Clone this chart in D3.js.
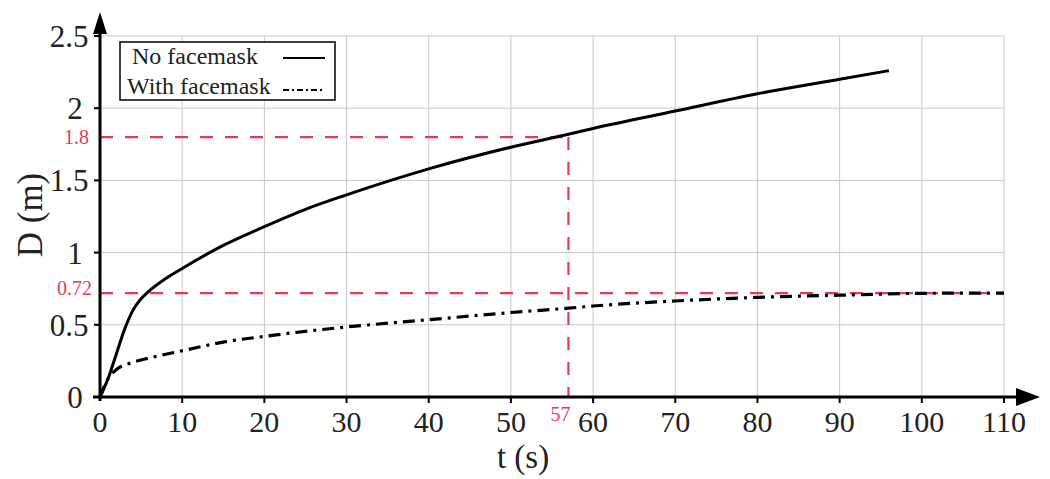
<!DOCTYPE html>
<html>
<head>
<meta charset="utf-8">
<script src="https://cdn.jsdelivr.net/npm/d3@7"></script>
<style>
	body { margin: 0; background: #fff; }
	text { font-family: "Liberation Serif", "DejaVu Serif", serif; }
</style>
</head>
<body>
<div id="chart"></div>
<script>
// ---------- DATA ----------
const tNoMask = [0, 1, 2, 3, 4, 5, 6, 8, 10, 15, 20, 25, 30, 40, 50, 57, 60, 70, 80, 90, 96];
const dNoMask = [0, 0.13, 0.3, 0.47, 0.6, 0.68, 0.735, 0.82, 0.89, 1.05, 1.18, 1.3, 1.4, 1.58, 1.73, 1.82, 1.86, 1.98, 2.1, 2.2, 2.26];
const tMask = [0, 1, 2, 4, 6, 10, 15, 20, 30, 40, 50, 57, 60, 70, 80, 90, 100, 110];
const dMask = [0, 0.13, 0.19, 0.24, 0.27, 0.32, 0.38, 0.42, 0.485, 0.535, 0.585, 0.615, 0.63, 0.665, 0.69, 0.705, 0.718, 0.72];
const xTicks = [0, 10, 20, 30, 40, 50, 60, 70, 80, 90, 100, 110];
const yTicks = [0, 0.5, 1, 1.5, 2, 2.5];
const yTickLabels = ["0", "0.5", "1", "1.5", "2", "2.5"];
const markT = 57;
const markD = [1.8, 0.72];
const legendLabels = ["No facemask", "With facemask"];

const width = 1050;
const height = 479;

const svg = d3
	.select("#chart")
	.append("svg")
	.attr("width", width)
	.attr("height", height);

const x = d3.scaleLinear().domain([0, 110]).range([100, 1004]);
const y = d3.scaleLinear().domain([0, 2.5]).range([397, 36]);

// grid
const gridG = svg.append("g").attr("stroke", "#c8c8c8").attr("stroke-width", 1);
gridG
	.selectAll(".vgrid")
	.data(xTicks.slice(1))
	.enter()
	.append("line")
	.attr("x1", (d) => x(d))
	.attr("x2", (d) => x(d))
	.attr("y1", y(0))
	.attr("y2", y(2.5));
gridG
	.selectAll(".hgrid")
	.data(yTicks.slice(1))
	.enter()
	.append("line")
	.attr("x1", x(0))
	.attr("x2", x(110))
	.attr("y1", (d) => y(d))
	.attr("y2", (d) => y(d));

// red reference lines
const red = "#e23b52";
const refG = svg
	.append("g")
	.attr("stroke", red)
	.attr("stroke-width", 2.2)
	.attr("stroke-dasharray", "13,12");
refG
	.append("line")
	.attr("x1", x(0))
	.attr("x2", x(markT))
	.attr("y1", y(markD[0]))
	.attr("y2", y(markD[0]));
refG
	.append("line")
	.attr("x1", x(markT))
	.attr("x2", x(markT))
	.attr("y1", y(markD[0]))
	.attr("y2", y(0));
refG
	.append("line")
	.attr("x1", x(0))
	.attr("x2", x(110))
	.attr("y1", y(markD[1]))
	.attr("y2", y(markD[1]));

// curves
const line = d3
	.line()
	.x((d) => x(d[0]))
	.y((d) => y(d[1]))
	.curve(d3.curveMonotoneX);

svg
	.append("path")
	.datum(d3.zip(tNoMask, dNoMask))
	.attr("d", line)
	.attr("fill", "none")
	.attr("stroke", "black")
	.attr("stroke-width", 3);

svg
	.append("path")
	.datum(d3.zip(tMask, dMask))
	.attr("d", line)
	.attr("fill", "none")
	.attr("stroke", "black")
	.attr("stroke-width", 3.2)
	.attr("stroke-dasharray", "12,6,3,6");

// axes
const axisG = svg.append("g").attr("stroke", "black").attr("stroke-width", 3);
axisG.append("line").attr("x1", 93).attr("x2", 1022).attr("y1", y(0)).attr("y2", y(0));
axisG.append("line").attr("x1", x(0)).attr("x2", x(0)).attr("y1", 401).attr("y2", 28);
svg.append("path").attr("d", "M1040,397 L1016,388 L1016,406 Z").attr("fill", "black");
svg.append("path").attr("d", "M100,12 L93,34 L107,34 Z").attr("fill", "black");

// ticks
const tickG = svg.append("g").attr("stroke", "black").attr("stroke-width", 2);
tickG
	.selectAll(".xt")
	.data(xTicks.slice(1))
	.enter()
	.append("line")
	.attr("x1", (d) => x(d))
	.attr("x2", (d) => x(d))
	.attr("y1", y(0))
	.attr("y2", y(0) + 6);
tickG
	.selectAll(".yt")
	.data(yTicks.slice(1))
	.enter()
	.append("line")
	.attr("x1", x(0) - 6)
	.attr("x2", x(0))
	.attr("y1", (d) => y(d))
	.attr("y2", (d) => y(d));

svg
	.selectAll(".xlab")
	.data(xTicks)
	.enter()
	.append("text")
	.attr("x", (d) => x(d))
	.attr("y", 432)
	.attr("text-anchor", "middle")
	.attr("font-size", 30)
	.attr("fill", "#222")
	.text((d) => d);

svg
	.selectAll(".ylab")
	.data(yTicks)
	.enter()
	.append("text")
	.attr("x", (d, i) => (yTickLabels[i].length > 1 ? 69 : 75))
	.attr("y", (d) => y(d) + 11)
	.attr("text-anchor", "middle")
	.attr("font-size", 31)
	.attr("fill", "#222")
	.text((d, i) => yTickLabels[i]);

// red labels
svg.append("text").attr("x", 89).attr("y", y(markD[0]) + 7).attr("text-anchor", "end")
	.attr("font-size", 20).attr("fill", red).text(markD[0]);
svg.append("text").attr("x", 92).attr("y", y(markD[1]) + 2).attr("text-anchor", "end")
	.attr("font-size", 20).attr("fill", red).text(markD[1]);
svg.append("text").attr("x", x(markT) - 8).attr("y", 421).attr("text-anchor", "middle")
	.attr("font-size", 20).attr("fill", red).text(markT);

// axis titles
svg.append("text").attr("x", 523).attr("y", 468).attr("text-anchor", "middle")
	.attr("font-size", 33).attr("fill", "#222").text("t (s)");
svg.append("text")
	.attr("transform", "translate(42, 215) rotate(-90)")
	.attr("text-anchor", "middle")
	.attr("font-size", 35)
	.attr("fill", "#222")
	.text("D (m)");

// legend
const legendG = svg.append("g");
legendG.append("rect").attr("x", 120).attr("y", 42).attr("width", 215).attr("height", 58)
	.attr("fill", "white").attr("stroke", "black").attr("stroke-width", 1.5);
legendG.append("text").attr("x", 132).attr("y", 64).attr("font-size", 24).attr("fill", "#222").text(legendLabels[0]);
legendG.append("text").attr("x", 127).attr("y", 94).attr("font-size", 24).attr("fill", "#222").text(legendLabels[1]);
legendG.append("line").attr("x1", 283).attr("x2", 325).attr("y1", 58).attr("y2", 58)
	.attr("stroke", "black").attr("stroke-width", 2);
legendG.append("line").attr("x1", 283).attr("x2", 324).attr("y1", 90).attr("y2", 90)
	.attr("stroke", "black").attr("stroke-width", 1.8).attr("stroke-dasharray", "6,3,2,3");
</script>
</body>
</html>
